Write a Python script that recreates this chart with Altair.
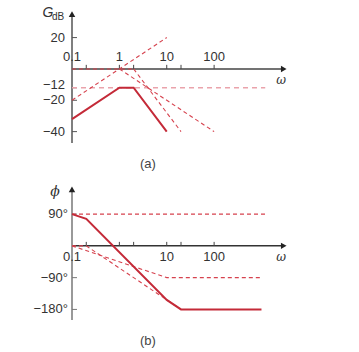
import altair as alt
import pandas as pd

# ---------------- data: (a) gain plot ----------------
gain_solid_w = [0.1, 1, 2, 10]
gain_solid_db = [-32, -12, -12, -40]
gain_zero_w = [0.1, 10]
gain_zero_db = [-20, 20]
gain_pole1_w = [1, 100]
gain_pole1_db = [0, -40]
gain_pole2_w = [2, 20]
gain_pole2_db = [0, -40]
gain_flat_w = [0.1, 2]
gain_flat_db = [0, 0]
gain_const_w = [0.1, 1200]
gain_const_db = [-12, -12]

gain_xtick_vals = [0.2, 1, 2, 10, 20, 100]
gain_xlabel_vals = [0.1, 1, 10, 100]
gain_xlabel_text = ["0.1", "1", "10", "100"]
gain_ytick_vals = [20, -12, -20, -40]
gain_ylabel_vals_a = [20, -20, -40]
gain_ylabel_text_a = ["20", "\u221220", "\u221240"]
gain_ylabel_vals_b = [-12]
gain_ylabel_text_b = ["\u221212"]

# ---------------- data: (b) phase plot ----------------
phase_solid_w = [0.1, 0.2, 10, 20, 1000]
phase_solid_deg = [90, 76.5, -153, -180, -180]
phase_zero_w = [0.1, 1200]
phase_zero_deg = [90, 90]
phase_pole1_w = [0.1, 10, 1000]
phase_pole1_deg = [0, -90, -90]
phase_pole2_w = [0.1, 0.2, 20]
phase_pole2_deg = [0, 0, -180]

phase_xtick_vals = [0.2, 1, 2, 10, 20, 100]
phase_xlabel_vals = [0.1, 10, 100]
phase_xlabel_text = ["0.1", "10", "100"]
phase_ytick_vals = [90, -90, -180]
phase_ylabel_text = ["90\u00b0", "\u221290\u00b0", "\u2212180\u00b0"]

# axis extents (data units)
W_MIN, W_MAX = 0.1, 4000
W_AXIS_END = 2950
W_OMEGA = 2600
GAIN_DOMAIN = [-160.2, 37.6]
GAIN_AXIS = [-47.2, 35]
PHASE_DOMAIN = [-210, 668.2]
PHASE_AXIS = [-210, 160]

RED = "#c42a38"
DRED = "#d6424e"
PINK = "#eaa3ab"
FONT = "Liberation Sans"

XS = alt.Scale(type="log", domain=[W_MIN, W_MAX], nice=False)
YS_G = alt.Scale(domain=GAIN_DOMAIN, nice=False, zero=False)
YS_P = alt.Scale(domain=PHASE_DOMAIN, nice=False, zero=False)


def line(ws, vs, ys, color, width, dash=None):
    kw = dict(color=color, strokeWidth=width)
    if dash:
        kw["strokeDash"] = dash
    df = pd.DataFrame({"w": ws, "v": vs})
    return alt.Chart(df).mark_line(**kw).encode(
        x=alt.X("w:Q", scale=XS, axis=None),
        y=alt.Y("v:Q", scale=ys, axis=None),
    )


def rules(w, w2, v, v2, ys, color, width):
    df = pd.DataFrame({"w": w, "w2": w2, "v": v, "v2": v2})
    return alt.Chart(df).mark_rule(color=color, strokeWidth=width).encode(
        x=alt.X("w:Q", scale=XS, axis=None),
        x2="w2:Q",
        y=alt.Y("v:Q", scale=ys, axis=None),
        y2="v2:Q",
    )


def texts(w, v, t, ys, **kw):
    df = pd.DataFrame({"w": w, "v": v, "t": t})
    return alt.Chart(df).mark_text(**kw).encode(
        x=alt.X("w:Q", scale=XS, axis=None),
        y=alt.Y("v:Q", scale=ys, axis=None),
        text="t:N",
    )


def arrow(w, v, shape, ys):
    df = pd.DataFrame({"w": [w], "v": [v]})
    return alt.Chart(df).mark_point(shape=shape, filled=True, size=42,
                                    color="#222", opacity=1).encode(
        x=alt.X("w:Q", scale=XS, axis=None),
        y=alt.Y("v:Q", scale=ys, axis=None),
    )


YT_W2 = 0.1275  # right end of y-axis ticks
G_TICK = 2.6     # dB length of x ticks
P_TICK = 11.3    # deg length of x ticks

gain = alt.layer(
    # axes
    rules([W_MIN], [W_AXIS_END], [0], [0], YS_G, "#444", 1.5),
    rules([W_MIN], [W_MIN], [GAIN_AXIS[0]], [GAIN_AXIS[1]], YS_G, "#555", 1.5),
    rules(gain_xtick_vals, gain_xtick_vals, [0] * len(gain_xtick_vals),
          [G_TICK] * len(gain_xtick_vals), YS_G, "#444", 1),
    rules([W_MIN] * len(gain_ytick_vals), [YT_W2] * len(gain_ytick_vals),
          gain_ytick_vals, gain_ytick_vals, YS_G, "#555", 1),
    arrow(W_AXIS_END, 0, "triangle-right", YS_G),
    arrow(W_MIN, GAIN_AXIS[1], "triangle-up", YS_G),
    # asymptotes
    line(gain_const_w, gain_const_db, YS_G, PINK, 1.6, [5, 4]),
    line(gain_flat_w, gain_flat_db, YS_G, DRED, 1.1, [4, 3]),
    line(gain_zero_w, gain_zero_db, YS_G, DRED, 1.1, [4, 3]),
    line(gain_pole1_w, gain_pole1_db, YS_G, DRED, 1.1, [4, 3]),
    line(gain_pole2_w, gain_pole2_db, YS_G, DRED, 1.1, [4, 3]),
    line(gain_solid_w, gain_solid_db, YS_G, RED, 2),
    # labels
    texts(gain_xlabel_vals, [0] * 4, gain_xlabel_text, YS_G, dy=-12,
          font=FONT, fontSize=13, color="#333", baseline="middle", align="center"),
    texts([W_MIN] * 3, gain_ylabel_vals_a, gain_ylabel_text_a, YS_G, dx=-7,
          font=FONT, fontSize=13, color="#333", baseline="middle", align="right"),
    texts([W_MIN], gain_ylabel_vals_b, gain_ylabel_text_b, YS_G, dx=-7, dy=-3,
          font=FONT, fontSize=13, color="#333", baseline="middle", align="right"),
    texts([W_MIN], [35.7], ["G"], YS_G, dx=-24, font=FONT, fontSize=14,
          fontStyle="italic", color="#333", baseline="middle", align="center"),
    texts([W_MIN], [33.4], ["dB"], YS_G, dx=-14, font=FONT, fontSize=10,
          color="#333", baseline="middle", align="center"),
    texts([W_OMEGA], [-7], ["\u03c9"], YS_G, font="DejaVu Serif", fontSize=12,
          fontStyle="italic", color="#333", baseline="middle", align="center"),
    texts([4.0], [-60.6], ["(a)"], YS_G, font=FONT, fontSize=13,
          color="#444", baseline="middle", align="center"),
)

phase = alt.layer(
    rules([W_MIN], [W_AXIS_END], [0], [0], YS_P, "#333", 1.5),
    rules([W_MIN], [W_MIN], [PHASE_AXIS[0]], [PHASE_AXIS[1]], YS_P, "#999", 2),
    rules(phase_xtick_vals, phase_xtick_vals, [0] * len(phase_xtick_vals),
          [P_TICK] * len(phase_xtick_vals), YS_P, "#444", 1),
    rules([W_MIN] * len(phase_ytick_vals), [YT_W2] * len(phase_ytick_vals),
          phase_ytick_vals, phase_ytick_vals, YS_P, "#777", 1),
    arrow(W_AXIS_END, 0, "triangle-right", YS_P),
    arrow(W_MIN, PHASE_AXIS[1], "triangle-up", YS_P),
    line(phase_zero_w, phase_zero_deg, YS_P, DRED, 1.1, [4, 3]),
    line(phase_pole1_w, phase_pole1_deg, YS_P, DRED, 1.1, [4, 3]),
    line(phase_pole2_w, phase_pole2_deg, YS_P, DRED, 1.1, [4, 3]),
    line(phase_solid_w, phase_solid_deg, YS_P, RED, 2),
    texts(phase_xlabel_vals, [0] * 3, phase_xlabel_text, YS_P, dy=11,
          font=FONT, fontSize=13, color="#333", baseline="middle", align="center"),
    texts([W_MIN] * 3, phase_ytick_vals, phase_ylabel_text, YS_P, dx=-4,
          font=FONT, fontSize=13, color="#333", baseline="middle", align="right"),
    texts([W_MIN], [153], ["\u03d5"], YS_P, dx=-17, font="DejaVu Serif", fontSize=14,
          fontStyle="italic", color="#333", baseline="middle", align="center"),
    texts([W_OMEGA], [-32], ["\u03c9"], YS_P, font="DejaVu Serif", fontSize=12,
          fontStyle="italic", color="#333", baseline="middle", align="center"),
    texts([4.0], [-270], ["(b)"], YS_P, font=FONT, fontSize=13,
          color="#444", baseline="middle", align="center"),
)

chart = alt.layer(gain, phase).resolve_scale(y="independent").properties(
    width=218,
    height=310,
    autosize=alt.AutoSizeParams(type="none"),
    padding={"left": 72, "top": 10, "right": 69, "bottom": 32},
).configure(background="white", view=alt.ViewConfig(stroke=None))

chart.save("out.html", embed_options={"renderer": "svg", "actions": False})
